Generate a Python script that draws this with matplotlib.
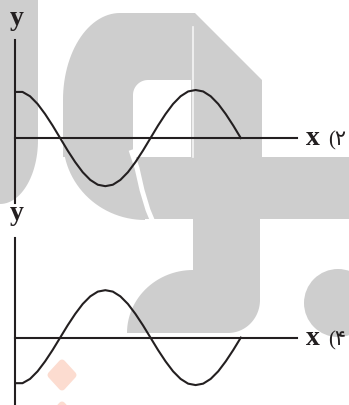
# -*- coding: utf-8 -*-

"""
Two sketches of a wave on x / y axes: option 2 (cosine) and option 4 (-cosine).
"""

import matplotlib.pyplot as plt
import numpy as np
from matplotlib.patches import Polygon, Rectangle, Circle

# phase along the x axis, in degrees (0 .. 450)
phase = [0, 15, 30, 45, 60, 75, 90, 105, 120, 135, 150, 165, 180, 195, 210,
         225, 240, 255, 270, 285, 300, 315, 330, 345, 360, 375, 390, 405,
         420, 435, 450]

# top sketch, option 2
wave_2 = [0.96, 0.96, 0.87, 0.71, 0.50, 0.26, 0.00, -0.26, -0.50, -0.71,
          -0.87, -0.97, -1.00, -0.97, -0.87, -0.71, -0.50, -0.26, 0.00,
          0.26, 0.50, 0.71, 0.87, 0.97, 1.00, 0.97, 0.87, 0.71, 0.50, 0.26,
          0.00]

# bottom sketch, option 4
wave_4 = [-0.96, -0.96, -0.87, -0.71, -0.50, -0.26, 0.00, 0.26, 0.50, 0.71,
          0.87, 0.97, 1.00, 0.97, 0.87, 0.71, 0.50, 0.26, 0.00, -0.26,
          -0.50, -0.71, -0.87, -0.97, -1.00, -0.97, -0.87, -0.71, -0.50,
          -0.26, 0.00]

option_labels = ['(\u06f2', '(\u06f4']

INK = '#231f20'
GREY = '#cecece'
W, H = 349, 405


def fx(x):
    return x / W


def fy(y):
    return 1 - y / H


def arc(cx, cy, rx, ry, a0, a1, n=30):
    a = np.radians(np.linspace(a0, a1, n))
    return list(zip(cx + rx * np.cos(a), cy + ry * np.sin(a)))


fig = plt.figure(figsize=(W / 100, H / 100), dpi=100)

# background watermark, drawn in pixel coordinates
bg = fig.add_axes([0, 0, 1, 1])
bg.set_xlim(0, W)
bg.set_ylim(H, 0)
bg.axis('off')

grey_shapes = [
    Polygon([(0, 0), (38, 0)] + arc(0, 140, 38, 64, 0, 90) + [(0, 140)]),
    Polygon([(63, 157), (63, 100)] + arc(120, 100, 57, 87, 180, 270)
            + [(195, 13), (262, 80), (262, 157)]),
    Polygon(arc(145, 140, 82, 80, 180, 90) + [(145, 140)]),
    Rectangle((140, 157), 209, 62),
    Rectangle((193, 157), 67, 130),
    Polygon(arc(193, 333, 66, 63, 180, 270) + [(260, 270), (260, 300)]
            + arc(228, 300, 32, 33, 0, 90) + [(127, 333)]),
    Circle((338, 303), 34),
]
for shp in grey_shapes:
    shp.set_facecolor(GREY)
    shp.set_edgecolor('none')
    bg.add_patch(shp)

hole = Polygon([(133, 157), (133, 95)] + arc(148, 95, 15, 15, 180, 270)
               + [(191, 80), (191, 157)], facecolor='white', edgecolor='none')
bg.add_patch(hole)
bg.plot([131, 137, 142, 148, 153], [150, 168, 190, 210, 222], color='white',
        lw=3.5, solid_capstyle='butt')
bg.plot([193, 193], [27, 157], color='white', lw=1.2, alpha=0.8)

for cy in (375, 417):
    bg.add_patch(Polygon([(62, cy - 12), (73, cy), (62, cy + 12), (51, cy)],
                         closed=True, facecolor='#fcdcd0', edgecolor='#fcdcd0',
                         lw=5, joinstyle='round'))


def sketch(rect, values, ylim):
    ax = fig.add_axes(rect)
    ax.patch.set_alpha(0)
    ax.plot(phase, values, color=INK, lw=1.5)
    ax.set_xlim(0, 562)
    ax.set_ylim(*ylim)
    ax.spines['top'].set_visible(False)
    ax.spines['right'].set_visible(False)
    ax.spines['bottom'].set_position(('data', 0))
    for s in ('left', 'bottom'):
        ax.spines[s].set_color(INK)
        ax.spines[s].set_linewidth(1.5)
    ax.set_xticks([])
    ax.set_yticks([])
    return ax


sketch([fx(15), fy(203), fx(282), (203 - 40) / H], wave_2, (-1.35, 2.04))
sketch([fx(15), fy(405), fx(282), (405 - 238) / H], wave_4, (-1.42, 2.10))

for y_lab, x_base, opt in ((25, 145, option_labels[0]),
                           (220, 345, option_labels[1])):
    fig.text(fx(17), fy(y_lab), 'y', ha='center', va='baseline',
             family='Liberation Serif', weight='bold', size=20, color=INK)
    fig.text(fx(306), fy(x_base), 'x', ha='left', va='baseline',
             family='Liberation Serif', weight='bold', size=20, color=INK)
    fig.text(fx(328), fy(x_base), opt, ha='left', va='baseline',
             family=['Liberation Serif', 'DejaVu Sans'], size=15, color=INK)

fig.savefig('out.png', dpi=100)
